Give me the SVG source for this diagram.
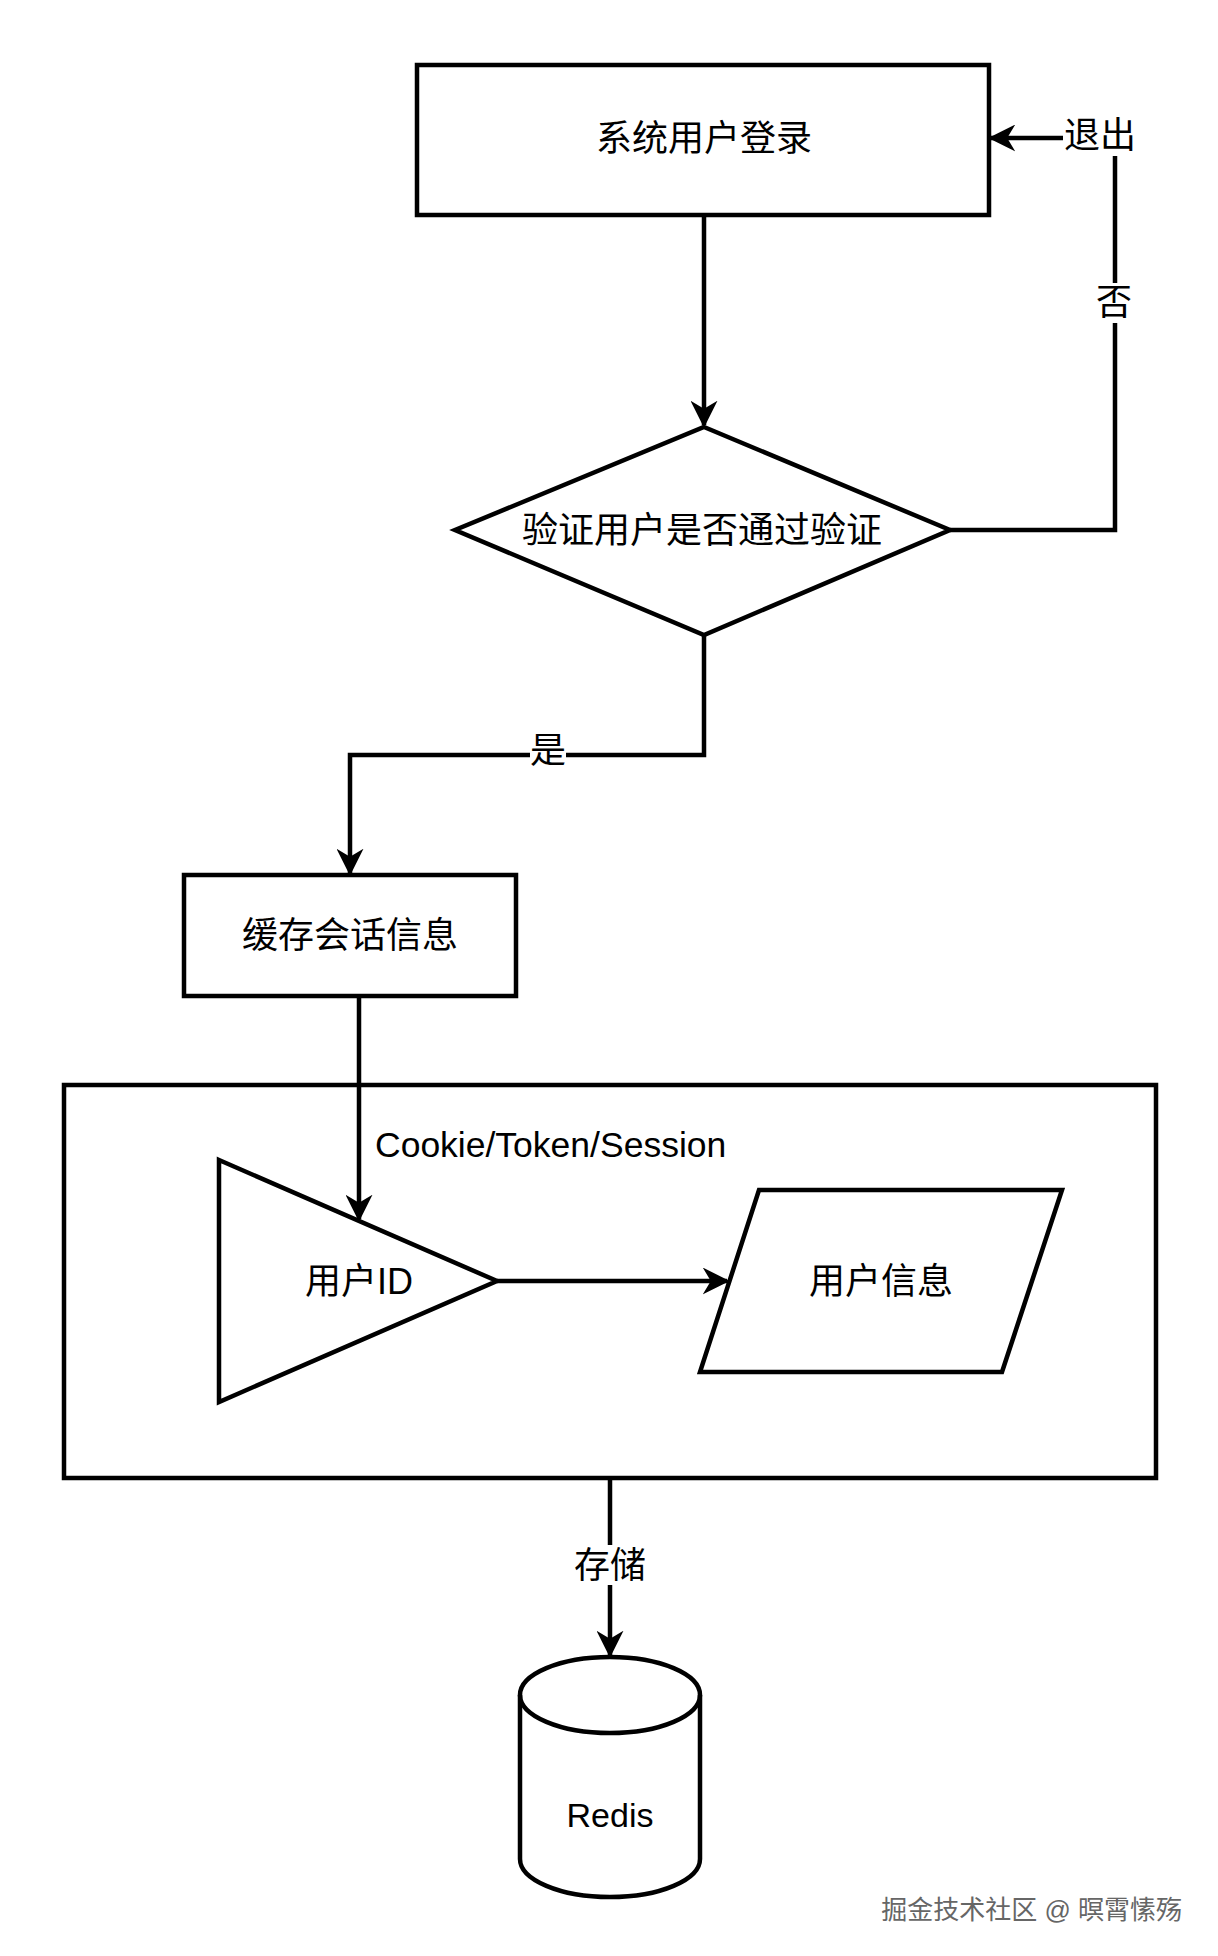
<svg xmlns="http://www.w3.org/2000/svg" width="1218" height="1956" viewBox="0 0 1218 1956">
<style>
.s{fill:#fff;stroke:#000;stroke-width:4.5}
.c{fill:none;stroke:#000;stroke-width:4.5}
text{font-family:"Liberation Sans","Noto Sans CJK SC",sans-serif;font-size:36px;fill:#000;text-anchor:middle;dominant-baseline:central}
.lb{fill:#fff}
</style>
<defs><marker id="a" viewBox="0 0 10 10" refX="9" refY="5" markerWidth="6" markerHeight="6" orient="auto" markerUnits="strokeWidth"><path d="M0,0L10,5L0,10L3,5Z" fill="#000"/></marker></defs>
<rect width="1218" height="1956" fill="#fff"/>
<g id="container"><rect class="s" x="64" y="1085" width="1092" height="393"/></g>
<g id="connectors">
<path class="c" d="M704,215V425" marker-end="url(#a)"/>
<path class="c" d="M950,530H1115V138H991" marker-end="url(#a)"/>
<path class="c" d="M704,635V755H350V873" marker-end="url(#a)"/>
<path class="c" d="M359,996V1219" marker-end="url(#a)"/>
<path class="c" d="M497,1281H727" marker-end="url(#a)"/>
<path class="c" d="M610,1478V1655" marker-end="url(#a)"/>
<rect class="lb" x="1063" y="116" width="76" height="40"/>
<text x="1100" y="135">退出</text>
<rect class="lb" x="1097" y="283" width="36" height="40"/>
<text x="1114" y="302">否</text>
<rect class="lb" x="530" y="732" width="36" height="40"/>
<text x="548" y="750">是</text>
<rect class="lb" x="572" y="1545" width="76" height="40"/>
<text x="610" y="1565">存储</text>
<text x="375" y="1145" style="text-anchor:start;font-size:35.5px">Cookie/Token/Session</text>
</g>
<g id="login"><rect class="s" x="417" y="65" width="572" height="150"/><text x="704" y="138">系统用户登录</text></g>
<g id="verify"><polygon class="s" points="704,427 950,530 704,635 455,530"/><text x="702" y="530">验证用户是否通过验证</text></g>
<g id="cache"><rect class="s" x="184" y="875" width="332" height="121"/><text x="350" y="935">缓存会话信息</text></g>
<g id="userid"><polygon class="s" points="219,1160 497,1281 219,1402"/><text x="359" y="1281">用户ID</text></g>
<g id="userinfo"><polygon class="s" points="759,1190 1062,1190 1002,1372 700,1372"/><text x="881" y="1281">用户信息</text></g>
<g id="redis"><path class="s" d="M520,1695A90,38 0 0 1 700,1695V1859A90,38 0 0 1 520,1859Z"/><path class="c" d="M520,1695A90,38 0 0 0 700,1695"/><text x="610" y="1815" style="font-size:34px">Redis</text></g>
<text x="1182" y="1910" style="font-size:26px;fill:#666;text-anchor:end">掘金技术社区 @ 暝霄愫殇</text>
</svg>
